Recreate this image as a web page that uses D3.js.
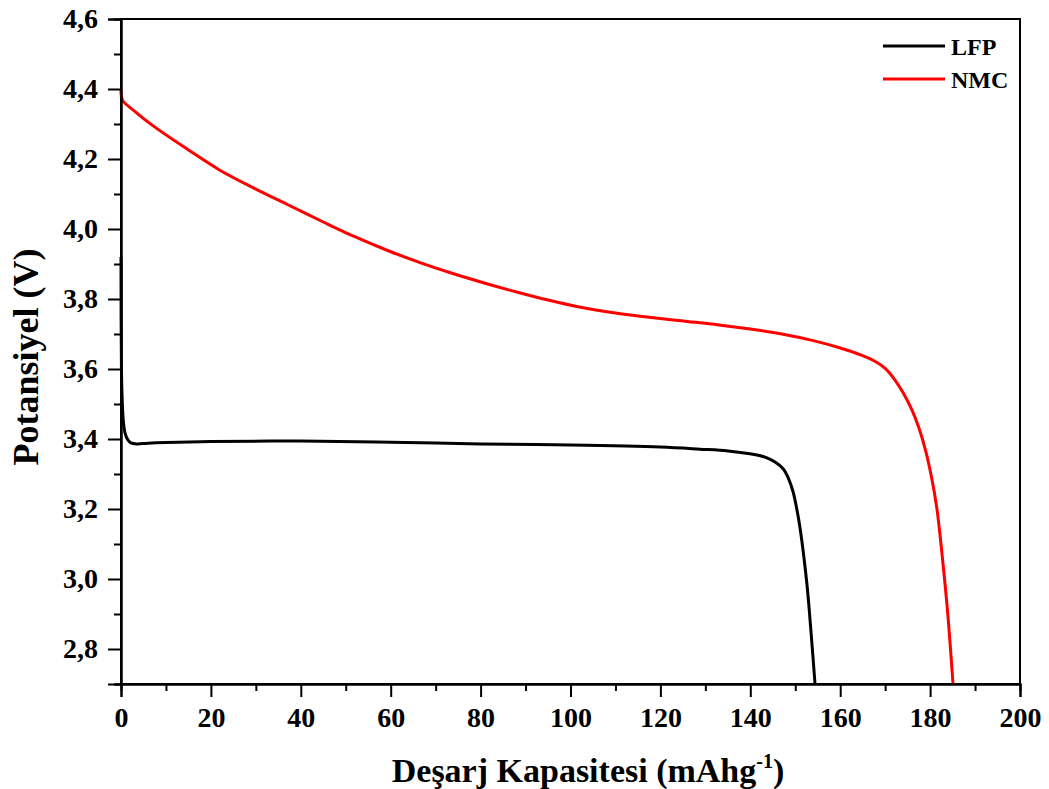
<!DOCTYPE html>
<html><head><meta charset="utf-8">
<script src="https://cdn.jsdelivr.net/npm/d3@7"></script>
<style>body{margin:0;background:#fff}</style>
</head><body>
<svg id="c" width="1049" height="789"></svg>
<script>
const seriesNames = ["LFP", "NMC"];
const seriesColors = ["#000000", "#ff0000"];
const lfpCap = [0, 0.1, 0.3, 0.5, 0.9, 1.5, 2.2, 3.5, 6, 10, 20, 40, 60, 80, 100, 120, 128.8, 135, 139.9, 142, 143.7, 145.5, 147.3, 148.5, 149.5, 150.3, 151.1, 152.6, 153.5, 154.4];
const lfpV   = [3.92, 3.6, 3.5, 3.454, 3.417, 3.398, 3.389, 3.386, 3.388, 3.39, 3.393, 3.394, 3.391, 3.386, 3.383, 3.377, 3.371, 3.366, 3.358, 3.353, 3.346, 3.334, 3.315, 3.287, 3.25, 3.203, 3.143, 2.985, 2.85, 2.7];
const nmcCap = [0, 0.3, 3, 7, 15, 22, 30, 37, 45, 52, 60, 67, 74, 81, 88, 95, 102, 110, 118, 126, 133, 140, 147, 154, 160, 165, 168, 170, 172, 174, 176, 177.5, 179, 180.3, 181.5, 182.9, 184, 185.1];
const nmcV   = [4.397, 4.369, 4.337, 4.296, 4.226, 4.168, 4.114, 4.07, 4.02, 3.978, 3.935, 3.902, 3.872, 3.845, 3.82, 3.797, 3.777, 3.76, 3.747, 3.736, 3.726, 3.714, 3.7, 3.681, 3.66, 3.638, 3.62, 3.602, 3.572, 3.532, 3.482, 3.432, 3.367, 3.292, 3.202, 3.04, 2.89, 2.7];
const xTicks = [0, 20, 40, 60, 80, 100, 120, 140, 160, 180, 200];
const yTicks = [2.8, 3.0, 3.2, 3.4, 3.6, 3.8, 4.0, 4.2, 4.4, 4.6];
const xTitle = "Deşarj Kapasitesi (mAhg";
const yTitle = "Potansiyel (V)";

const svg = d3.select("#c");
const L = 121, R = 1020, T = 19, B = 684;
const x = d3.scaleLinear().domain([0, 200]).range([L, R]);
const y = d3.scaleLinear().domain([2.7, 4.6]).range([B, T]);
const font = "'Liberation Serif', serif";

// frame
svg.append("rect").attr("x", L).attr("y", T).attr("width", R - L).attr("height", B - T)
  .attr("fill", "none").attr("stroke", "#000").attr("stroke-width", 2);

// series
const line = d3.line().x(d => x(d[0])).y(d => y(d[1])).curve(d3.curveCatmullRom.alpha(0.5));
const data = [d3.zip(lfpCap, lfpV), d3.zip(nmcCap, nmcV)];
data.forEach((d, i) => {
  svg.append("path").datum(d).attr("d", line).attr("fill", "none")
    .attr("stroke", seriesColors[i]).attr("stroke-width", 3).attr("stroke-linejoin", "round");
});

// x axis
const fmt = d3.format(".1f");
const xAxis = d3.axisBottom(x).tickValues(xTicks).tickSize(13).tickPadding(10).tickFormat(d3.format("d"));
svg.append("g").attr("transform", `translate(0,${B})`).call(xAxis);
const xMinor = d3.axisBottom(x).tickValues(d3.range(10, 200, 20)).tickSize(7).tickFormat("");
svg.append("g").attr("transform", `translate(0,${B})`).call(xMinor);
// y axis
const yAxis = d3.axisLeft(y).tickValues(yTicks).tickSize(13).tickPadding(10).tickFormat(d => fmt(d).replace(".", ","));
svg.append("g").attr("transform", `translate(${L},0)`).call(yAxis);
const yMinor = d3.axisLeft(y).tickValues([2.7, 2.9, 3.1, 3.3, 3.5, 3.7, 3.9, 4.1, 4.3, 4.5]).tickSize(7).tickFormat("");
svg.append("g").attr("transform", `translate(${L},0)`).call(yMinor);

svg.selectAll(".domain").attr("stroke", "#000").attr("stroke-width", 2);
svg.selectAll(".tick line").attr("stroke", "#000").attr("stroke-width", 2);
svg.selectAll(".tick text").attr("fill", "#000").style("font-family", font)
  .style("font-weight", "bold").style("font-size", "28px");

// titles
const xt = svg.append("text").attr("x", 588).attr("y", 782).attr("text-anchor", "middle")
  .style("font-family", font).style("font-weight", "bold").style("font-size", "34px").attr("fill", "#000");
xt.append("tspan").text(xTitle);
xt.append("tspan").text("-1").attr("dy", -14).style("font-size", "20px");
xt.append("tspan").text(")").attr("dy", 14);
svg.append("text").attr("transform", `translate(38,357) rotate(-90)`).attr("text-anchor", "middle")
  .style("font-family", font).style("font-weight", "bold").style("font-size", "36px").attr("fill", "#000")
  .text(yTitle);

// legend
seriesNames.forEach((n, i) => {
  const ly = 46 + i * 33;
  svg.append("line").attr("x1", 883).attr("x2", 945).attr("y1", ly).attr("y2", ly)
    .attr("stroke", seriesColors[i]).attr("stroke-width", 3);
  svg.append("text").attr("x", 951).attr("y", ly + 9).text(n)
    .style("font-family", font).style("font-weight", "bold").style("font-size", "24px").attr("fill", "#000");
});
</script>
</body></html>
